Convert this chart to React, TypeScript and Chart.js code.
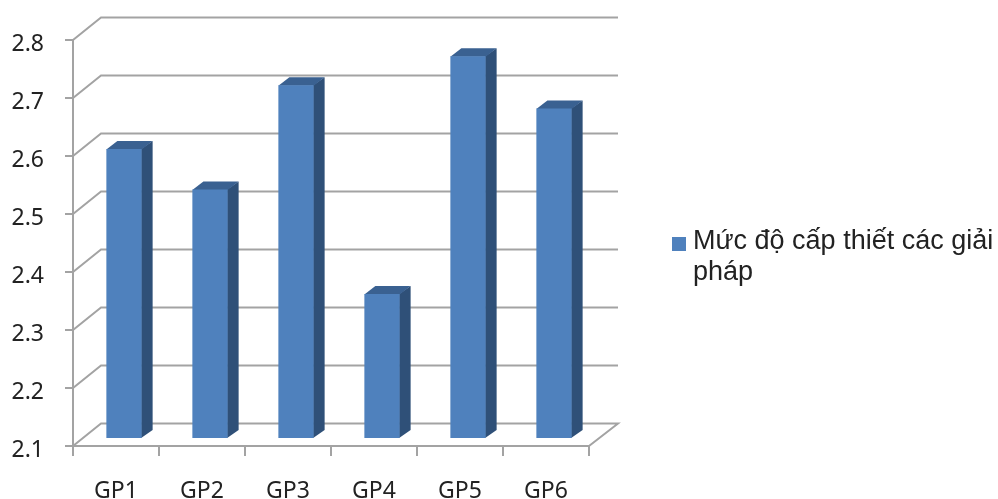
import { useEffect, useRef } from "react";
import { Chart, registerables } from "chart.js";

Chart.register(...registerables);

const categories = ["GP1", "GP2", "GP3", "GP4", "GP5", "GP6"];
const seriesName = "Mức độ cấp thiết các giải pháp";
const seriesValues = [2.6, 2.53, 2.71, 2.35, 2.76, 2.67];
const legendLines = ["Mức độ cấp thiết các giải", "pháp"];
const axisMin = 2.1;
const axisMax = 2.8;
const axisStep = 0.1;

const FRONT = "#4F81BD";
const SIDE = "#2F5078";
const TOP = "#3A6191";
const AXIS = "#A3A3A3";
const TEXT = "#222222";

// Oblique projection offsets, in canvas pixels.
const WALL_DX = 28;
const WALL_DY = -22.5;
const WALL_RIGHT_EXTRA = 1;
const BAR_SHIFT_X = 8;
const BAR_SHIFT_Y = -7;
const BAR_DEPTH_X = 11;
const BAR_DEPTH_Y = -8;

const depthPlugin = {
  id: "depth",
  beforeDatasetsDraw(chart: any) {
    const { ctx, scales } = chart;
    const { x, y } = scales;
    ctx.save();
    ctx.strokeStyle = AXIS;
    ctx.lineWidth = 2;
    for (const tick of y.ticks) {
      const py = y.getPixelForValue(tick.value);
      ctx.beginPath();
      ctx.moveTo(x.left, py);
      ctx.lineTo(x.left + WALL_DX, py + WALL_DY);
      ctx.lineTo(x.right + WALL_DX + WALL_RIGHT_EXTRA, py + WALL_DY);
      if (tick.value === axisMin) {
        ctx.lineTo(x.right, py);
      }
      ctx.stroke();
    }
    ctx.restore();
  },
  beforeDatasetDraw(chart: any, args: any) {
    const { ctx } = chart;
    ctx.save();
    ctx.translate(BAR_SHIFT_X, BAR_SHIFT_Y);
    for (const bar of chart.getDatasetMeta(args.index).data) {
      const right = bar.x + bar.width / 2;
      const left = bar.x - bar.width / 2;
      // Faces start slightly under the front so no seam shows along the shared edge.
      ctx.fillStyle = SIDE;
      ctx.beginPath();
      ctx.moveTo(right - 0.5, bar.y);
      ctx.lineTo(right + BAR_DEPTH_X, bar.y + BAR_DEPTH_Y);
      ctx.lineTo(right + BAR_DEPTH_X, bar.base + BAR_DEPTH_Y);
      ctx.lineTo(right - 0.5, bar.base);
      ctx.closePath();
      ctx.fill();
      ctx.fillStyle = TOP;
      ctx.beginPath();
      ctx.moveTo(left, bar.y + 0.5);
      ctx.lineTo(left + BAR_DEPTH_X, bar.y + BAR_DEPTH_Y);
      ctx.lineTo(right + BAR_DEPTH_X, bar.y + BAR_DEPTH_Y);
      ctx.lineTo(right, bar.y + 0.5);
      ctx.closePath();
      ctx.fill();
    }
  },
  afterDatasetDraw(chart: any) {
    chart.ctx.restore();
  },
  afterDraw(chart: any) {
    const { ctx } = chart;
    ctx.save();
    ctx.fillStyle = FRONT;
    ctx.fillRect(672, 237, 14, 14);
    ctx.fillStyle = TEXT;
    ctx.font = '27px "Liberation Sans"';
    ctx.textBaseline = "alphabetic";
    ctx.textAlign = "left";
    legendLines.forEach((line, i) => ctx.fillText(line, 693, 249 + i * 31));
    ctx.restore();
  },
};

export default function App() {
  const ref = useRef<HTMLCanvasElement>(null);

  useEffect(() => {
    const chart = new Chart(ref.current!, {
      type: "bar",
      data: {
        labels: categories,
        datasets: [
          {
            label: seriesName,
            data: seriesValues,
            base: axisMin,
            backgroundColor: FRONT,
            categoryPercentage: 1,
            barPercentage: 0.41,
            clip: false,
          } as any,
        ],
      },
      options: {
        animation: false,
        responsive: false,
        layout: { padding: { left: 0, top: 40, right: 409, bottom: 0 } },
        plugins: { legend: { display: false }, tooltip: { enabled: false } },
        scales: {
          x: {
            afterFit: (s: any) => {
              s.height = 53;
            },
            border: { color: AXIS, width: 2 },
            grid: { color: AXIS, lineWidth: 2, drawOnChartArea: false, tickLength: 10 },
            ticks: {
              color: TEXT,
              padding: 22,
              maxRotation: 0,
              font: { family: '"Noto Sans"', size: 23 },
            },
          },
          y: {
            min: axisMin,
            max: axisMax,
            afterFit: (s: any) => {
              s.width = 73;
            },
            border: { color: AXIS, width: 2 },
            grid: { color: AXIS, lineWidth: 2, drawOnChartArea: false, tickLength: 8 },
            ticks: {
              stepSize: axisStep,
              color: TEXT,
              padding: 21,
              // An empty first line with a small line height nudges each label below its tick.
              callback: (v: any) => ["", Number(v).toFixed(1)],
              font: { family: '"Noto Sans"', size: 23, lineHeight: 0.35 },
            },
          },
        },
      },
      plugins: [depthPlugin],
    } as any);
    return () => chart.destroy();
  }, []);

  return (
    <div style={{ position: "fixed", left: 0, top: 0, width: 998, height: 499, background: "#fff" }}>
      <canvas ref={ref} width={998} height={499} style={{ display: "block" }} />
    </div>
  );
}
